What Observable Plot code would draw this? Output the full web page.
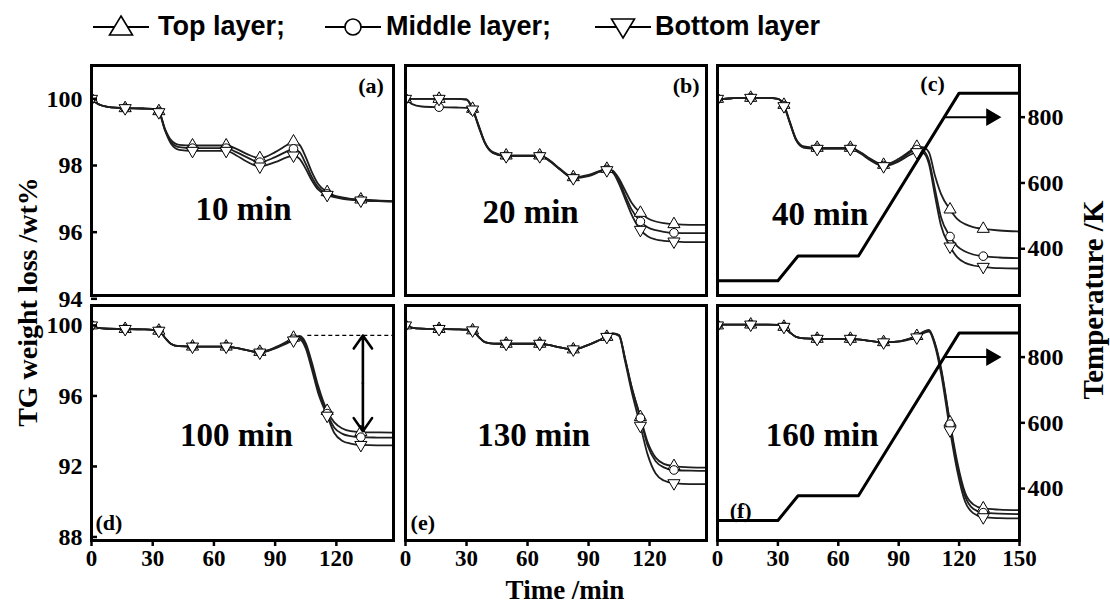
<!DOCTYPE html>
<html><head><meta charset="utf-8">
<script src="https://cdn.jsdelivr.net/npm/d3@7"></script>
<script src="https://cdn.jsdelivr.net/npm/@observablehq/plot@0.6"></script>
<style>
body{margin:0;background:#fff;}
#root{position:relative;width:1110px;height:605px;overflow:hidden;background:#fff;}
.abs{position:absolute;white-space:nowrap;}
.serif{font-family:"Liberation Serif","Times New Roman",serif;font-weight:bold;color:#000;}
.sans{font-family:"Liberation Sans",Arial,sans-serif;font-weight:bold;color:#000;}
</style></head><body><div id="root"></div><script>
// ---------- data ----------
const time = [0,3,8,16.5,25,30,33,36,39,43,49.5,58,66,71,76,82.5,90,96,99,102,105,108,111,115.5,119,123,127,132,140,150];
const markerTimes = [0,16.5,33,49.5,66,82.5,99,115.5,132];
const layerNames = ["Top layer","Middle layer","Bottom layer"];
const panelIds = ["a","b","c","d","e","f"];
const panelTitles = ["10 min","20 min","40 min","100 min","130 min","160 min"];

const topA    = [100,99.85,99.76,99.72,99.71,99.70,99.63,99.10,98.76,98.62,98.60,98.60,98.60,98.50,98.35,98.22,98.40,98.62,98.72,98.62,98.25,97.80,97.45,97.20,97.10,97.04,97.00,96.98,96.95,96.93];
const middleA = [100,99.85,99.76,99.72,99.71,99.70,99.62,99.08,98.70,98.55,98.52,98.52,98.52,98.40,98.25,98.10,98.25,98.43,98.50,98.40,98.05,97.65,97.35,97.15,97.07,97.02,96.99,96.97,96.94,96.92];
const bottomA = [100,99.85,99.76,99.72,99.71,99.70,99.60,99.05,98.65,98.47,98.44,98.44,98.44,98.30,98.12,97.97,98.10,98.25,98.30,98.20,97.90,97.55,97.28,97.12,97.05,97.00,96.97,96.95,96.93,96.91];

const topB    = [100,100,100,100,100,99.98,99.70,99.20,98.70,98.40,98.30,98.30,98.30,98.15,97.90,97.65,97.72,97.85,97.90,97.84,97.60,97.25,96.90,96.58,96.42,96.32,96.27,96.24,96.22,96.22];
const middleB = [100,99.85,99.77,99.75,99.74,99.73,99.65,99.15,98.68,98.38,98.28,98.28,98.28,98.13,97.88,97.63,97.70,97.83,97.88,97.82,97.55,97.10,96.70,96.32,96.15,96.06,96.01,95.98,95.97,95.97];
const bottomB = [100,100,100,100,100,99.98,99.68,99.18,98.68,98.38,98.28,98.28,98.28,98.13,97.88,97.62,97.68,97.82,97.86,97.78,97.45,97.00,96.55,96.07,95.88,95.78,95.74,95.72,95.70,95.70];

const topC    = [100,100.0,100.02,100.03,100.03,100.0,99.82,99.30,98.80,98.57,98.53,98.53,98.53,98.40,98.20,98.02,98.20,98.45,98.56,98.55,98.40,97.70,97.15,96.68,96.40,96.24,96.15,96.10,96.05,96.02];
const middleC = [100,100.0,100.02,100.03,100.03,100.0,99.80,99.28,98.78,98.55,98.52,98.52,98.52,98.38,98.18,98.00,98.15,98.40,98.48,98.45,98.15,97.30,96.45,95.87,95.58,95.42,95.33,95.28,95.24,95.22];
const bottomC = [100,100.0,100.02,100.03,100.03,100.0,99.78,99.26,98.76,98.53,98.50,98.50,98.50,98.36,98.15,97.98,98.12,98.33,98.40,98.38,98.05,97.10,96.20,95.57,95.25,95.08,95.00,94.96,94.92,94.91];

const topD    = [100,99.86,99.81,99.80,99.78,99.75,99.70,99.30,98.95,98.82,98.80,98.80,98.80,98.72,98.60,98.50,98.75,99.10,99.30,99.40,99.00,97.90,96.60,95.15,94.50,94.15,94.00,93.95,93.93,93.92];
const middleD = [100,99.86,99.81,99.80,99.78,99.75,99.70,99.30,98.95,98.82,98.80,98.80,98.80,98.72,98.60,98.48,98.72,99.05,99.22,99.30,98.85,97.70,96.40,95.00,94.20,93.85,93.72,93.66,93.64,93.63];
const bottomD = [100,99.86,99.81,99.80,99.78,99.75,99.70,99.30,98.95,98.82,98.80,98.80,98.80,98.72,98.60,98.46,98.70,99.00,99.15,99.20,98.70,97.50,96.20,94.88,93.90,93.45,93.30,93.22,93.20,93.20];

const topE    = [100,99.88,99.82,99.80,99.78,99.76,99.72,99.35,99.05,98.97,98.96,98.96,98.96,98.88,98.75,98.64,98.90,99.20,99.35,99.55,99.45,98.10,96.60,94.80,93.40,92.50,92.15,92.02,91.95,91.93];
const middleE = [100,99.88,99.82,99.80,99.78,99.76,99.72,99.35,99.05,98.97,98.96,98.96,98.96,98.88,98.75,98.64,98.90,99.20,99.35,99.55,99.45,98.10,96.60,94.75,93.20,92.30,91.95,91.80,91.76,91.75];
const bottomE = [100,99.88,99.82,99.80,99.78,99.76,99.72,99.35,99.05,98.97,98.96,98.96,98.96,98.88,98.75,98.64,98.90,99.20,99.35,99.52,99.40,97.95,96.35,94.31,92.70,91.60,91.20,91.05,91.00,91.00];

const topF    = [100,100.05,100.05,100.05,100.05,100.03,99.92,99.60,99.35,99.26,99.24,99.24,99.24,99.20,99.12,99.05,99.10,99.28,99.40,99.62,99.75,99.00,97.60,94.50,92.30,90.50,89.85,89.62,89.55,89.52];
const middleF = [100,100.05,100.05,100.05,100.05,100.03,99.92,99.60,99.35,99.26,99.24,99.24,99.24,99.20,99.12,99.05,99.10,99.26,99.36,99.60,99.72,98.95,97.50,94.40,92.10,90.30,89.60,89.38,89.32,89.30];
const bottomF = [100,100.05,100.05,100.05,100.05,100.03,99.92,99.60,99.35,99.26,99.24,99.24,99.24,99.20,99.12,99.04,99.08,99.22,99.32,99.55,99.65,98.85,97.30,94.05,91.80,90.00,89.35,89.12,89.07,89.05];

// temperature programme (right axis, panels c and f)
const tempTime = [0,30,40,70,120,150];
const tempK    = [303,303,378,378,873,873];
const tempArrowT = [113,136];
const tempArrowK = 800;

// panel (d) annotation: dashed level and double arrow
const dashLevel = 99.43, dashFrom = 106, dashTo = 148;
const rangeArrowT = 133, rangeArrowTop = 99.43, rangeArrowBottom = 94.0;

// tick values
const timeTicksShort = [0,30,60,90,120];
const timeTicksLong  = [0,30,60,90,120,150];
const weightTicksTop = [94,96,98,100];
const weightTicksBottom = [88,92,96,100];
const tempTicks = [400,600,800];

// label positions (data coordinates)
const titleT = [74.5,61.5,51,71,63,52];
const titleV = [96.68,96.58,96.53,93.74,93.74,93.74];
const letterT = [137,138,106.8,8.5,8.5,11.5];
const letterV = [100.4,100.4,100.45,88.8,88.8,89.5];

// ---------- layout ----------
const FONT = '"Liberation Serif","Times New Roman",serif';
const cols = [
  {left:91, right:393, xmax:148, xticks:timeTicksShort},
  {left:405, right:706, xmax:148, xticks:timeTicksShort},
  {left:717, right:1019, xmax:150, xticks:timeTicksLong}
];
const rows = [
  {top:65, bottom:295, domain:[94.1,101], ticks:weightTicksTop, tempDomain:[258,957]},
  {top:305, bottom:540, domain:[87.8,101.13], ticks:weightTicksBottom, tempDomain:[242,957]}
];
const panelSeries = [
  [topA,middleA,bottomA],[topB,middleB,bottomB],[topC,middleC,bottomC],
  [topD,middleD,bottomD],[topE,middleE,bottomE],[topF,middleF,bottomF]
];

const triDown = {draw(ctx, size){ const y = -Math.sqrt(size/(Math.sqrt(3)*3)); const s3=Math.sqrt(3);
  ctx.moveTo(0,-2*y); ctx.lineTo(s3*y, y); ctx.lineTo(-s3*y, y); ctx.closePath(); }};
const triRight = {draw(ctx, size){ const y = -Math.sqrt(size/(Math.sqrt(3)*3)); const s3=Math.sqrt(3);
  ctx.moveTo(-2*y,0); ctx.lineTo(y,-s3*y); ctx.lineTo(y,s3*y); ctx.closePath(); }};

const root = document.getElementById("root");
const mL=72, mR=72, mT=12, mB=44;

function place(svg, left, top){
  svg.style.position = "absolute";
  svg.style.left = left + "px";
  svg.style.top = top + "px";
  root.appendChild(svg);
}

const baseStyle = {fontFamily: FONT, fontWeight:"bold", fontSize:"24px", color:"#000", background:"transparent", overflow:"visible", maxWidth:"none"};
const intFmt = d => String(d);

panelIds.forEach((id, k) => {
  const col = k % 3, row = Math.floor(k/3);
  const c = cols[col], r = rows[row];
  const w = c.right - c.left, h = r.bottom - r.top;
  const data = [];
  panelSeries[k].forEach((vals, s) => time.forEach((t, i) => data.push({t, v: vals[i], layer: layerNames[s]})));
  const mk = name => data.filter(d => d.layer === name && markerTimes.includes(d.t));
  const marks = [
    Plot.line(data, {x:"t", y:"v", z:"layer", stroke:"#1e1e1e", strokeWidth:1.8, curve:"monotone-x", clip:true}),
    Plot.dot(mk("Top layer"), {x:"t", y:"v", symbol:"triangle", r:4.5, fill:"white", stroke:"black", strokeWidth:1, clip:true}),
    Plot.dot(mk("Middle layer"), {x:"t", y:"v", symbol:"circle", r:4.3, fill:"white", stroke:"black", strokeWidth:1, clip:true}),
    Plot.dot(mk("Bottom layer"), {x:"t", y:"v", symbol:triDown, r:4.5, fill:"white", stroke:"black", strokeWidth:1, clip:true}),
    Plot.text([{t:titleT[k], v:titleV[k], s:panelTitles[k]}], {x:"t", y:"v", text:"s", fontSize:33, fontWeight:"bold", fill:"black"}),
    Plot.text([{t:letterT[k], v:letterV[k], s:`(${id})`}], {x:"t", y:"v", text:"s", fontSize:22, fontWeight:"bold", fill:"black"})
  ];
  if (id === "d") {
    marks.push(Plot.ruleY([dashLevel], {x1:dashFrom, x2:dashTo, stroke:"black", strokeWidth:1.2, strokeDasharray:"4,3"}));
    const mid = (rangeArrowTop + rangeArrowBottom)/2;
    marks.push(Plot.arrow([{y1:mid, y2:rangeArrowTop},{y1:mid, y2:rangeArrowBottom}],
      {x1:()=>rangeArrowT, x2:()=>rangeArrowT, y1:"y1", y2:"y2", stroke:"black", strokeWidth:2.6, headLength:14, headAngle:70}));
  }
  marks.push(Plot.frame({stroke:"black", strokeWidth:3}));
  if (row === 1) marks.push(Plot.axisX({ticks:c.xticks, tickFormat:intFmt, tickSize:6, tickPadding:3, strokeWidth:2.5, fontSize:23, label:null}));
  if (col === 0) marks.push(Plot.axisY({ticks:r.ticks, tickFormat:intFmt, tickSize:-6, tickPadding:15, strokeWidth:2.5, fontSize:24, label:null}));
  const svg = Plot.plot({
    width: w+mL+mR, height: h+mT+mB,
    marginLeft:mL, marginRight:mR, marginTop:mT, marginBottom:mB,
    x:{domain:[0,c.xmax], axis:null}, y:{domain:r.domain, axis:null},
    style: baseStyle, marks
  });
  place(svg, c.left - mL, r.top - mT);

  if (col === 2) {
    const tdata = tempTime.map((t,i)=>({t, K: tempK[i]}));
    const tsvg = Plot.plot({
      width: w+mL+mR, height: h+mT+mB,
      marginLeft:mL, marginRight:mR, marginTop:mT, marginBottom:mB,
      x:{domain:[0,c.xmax], axis:null}, y:{domain:r.tempDomain, axis:null},
      style: baseStyle,
      marks: [
        Plot.line(tdata, {x:"t", y:"K", stroke:"black", strokeWidth:3, clip:true}),
        Plot.line(tempArrowT.map(t=>({t, K:tempArrowK})), {x:"t", y:"K", stroke:"black", strokeWidth:2}),
        Plot.dot([{t:tempArrowT[1], K:tempArrowK}], {x:"t", y:"K", symbol:triRight, r:5.6, fill:"black", stroke:"black"}),
        Plot.axisY({anchor:"right", ticks:tempTicks, tickFormat:intFmt, tickSize:5, tickPadding:3, strokeWidth:2.5, fontSize:24, label:null})
      ]
    });
    place(tsvg, c.left - mL, r.top - mT);
  }
});

// axis titles
function label(text, x, y, size, rot, cls){
  const d = document.createElement("div");
  d.className = "abs " + cls;
  d.textContent = text;
  d.style.fontSize = size + "px";
  d.style.lineHeight = "1";
  d.style.left = x + "px"; d.style.top = y + "px";
  d.style.transform = `translate(-50%,-50%)` + (rot ? ` rotate(${rot}deg)` : "");
  root.appendChild(d);
}
label("TG weight loss /wt%", 28, 302, 28, -90, "serif");
label("Temperature /K", 1093, 300, 29, -90, "serif");
label("Time /min", 565, 590, 27, 0, "serif");

// legend
const legendX = [93, 325, 595];
const legendTextX = [158, 386, 655];
const legendLabels = ["Top layer;","Middle layer;","Bottom layer"];
const legendShapes = [
  '<polygon points="28,3 39.5,22 16.5,22" fill="white" stroke="black" stroke-width="1.6"/>',
  '<circle cx="28" cy="14" r="8" fill="white" stroke="black" stroke-width="1.6"/>',
  '<polygon points="28,25 39.5,6 16.5,6" fill="white" stroke="black" stroke-width="1.6"/>'
];
legendLabels.forEach((lab, i) => {
  const s = document.createElementNS("http://www.w3.org/2000/svg","svg");
  s.setAttribute("width", 56); s.setAttribute("height", 28);
  s.style.position = "absolute"; s.style.left = legendX[i] + "px"; s.style.top = "13px";
  s.innerHTML = `<line x1="0" y1="14" x2="56" y2="14" stroke="black" stroke-width="2"/>` + legendShapes[i];
  root.appendChild(s);
  const d = document.createElement("div");
  d.className = "abs sans";
  d.textContent = lab;
  d.style.fontSize = "27px"; d.style.lineHeight = "1";
  d.style.left = legendTextX[i] + "px"; d.style.top = "13px";
  root.appendChild(d);
});
</script></body></html>
